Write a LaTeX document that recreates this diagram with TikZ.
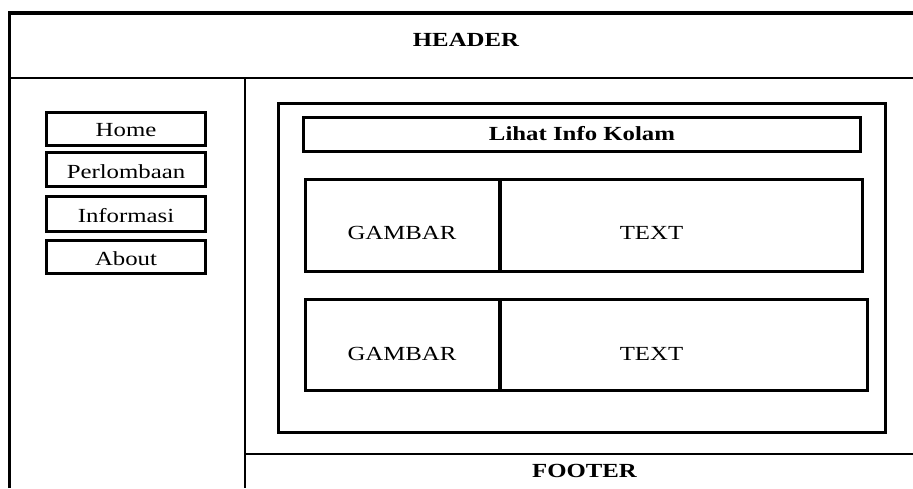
\documentclass[tikz,border=0pt]{standalone}
\usepackage{graphicx}
\usepackage{fontspec}
\setmainfont{Liberation Serif}
% slightly widened lettering
\newcommand\widetxt[1]{\scalebox{1.24}[1]{#1}}
\begin{document}
\begin{tikzpicture}[x=1pt,y=-1pt,
  frame/.style={draw, line width=3.2pt, inner sep=0pt, minimum width=#1},
  rule/.style={line width=2.8pt},
  lbl/.style={anchor=base, inner sep=0pt, font=\fontsize{20}{24}\selectfont},
  blbl/.style={lbl, font=\fontsize{20}{24}\selectfont\bfseries}]
\useasboundingbox (0,0) rectangle (913,488);

% page outline and layout rules
\coordinate (outerBL) at (9.5,488);
\coordinate (outerTL) at (9.5,13);
\coordinate (outerTR) at (913,13);
\draw[line width=3.2pt] (outerBL) -- (outerTL) -- (outerTR);
\coordinate (headL) at (9.5,78);
\coordinate (headR) at (913,78);
\draw[rule] (headL) -- (headR);
\coordinate (sideT) at (245,78);
\coordinate (sideB) at (245,488);
\draw[rule] (sideT) -- (sideB);
\coordinate (footL) at (245,454);
\coordinate (footR) at (913,454);
\draw[rule] (footL) -- (footR);

\node[blbl] (header) at (466,46) {\widetxt{HEADER}};
\node[blbl] (footer) at (584.5,477) {\widetxt{FOOTER}};

% navigation menu
\node[frame=159, minimum height=33] (mhome) at (126,129) {};
\node[frame=159, minimum height=34] (mlomba) at (126,169.5) {};
\node[frame=159, minimum height=35] (minfo) at (126,214) {};
\node[frame=159, minimum height=33] (mabout) at (126,257) {};
\node[lbl] (thome) at (126,136) {\widetxt{Home}};
\node[lbl] (tlomba) at (126,178) {\widetxt{Perlombaan}};
\node[lbl] (tinfo) at (126,222) {\widetxt{Informasi}};
\node[lbl] (tabout) at (126,265) {\widetxt{About}};

% content panel
\node[frame=607, minimum height=329] (content) at (582,268) {};
\node[frame=557, minimum height=34] (title) at (582,134.5) {};
\node[blbl] (ttitle) at (582,140) {\widetxt{Lihat Info Kolam}};

% first entry
\node[frame=194.5, minimum height=92] (img1) at (402.75,225.5) {};
\node[frame=362.5, minimum height=92] (txt1) at (681.25,225.5) {};
\node[lbl] (timg1) at (402,239) {\widetxt{GAMBAR}};
\node[lbl] (ttxt1) at (651.5,239) {\widetxt{TEXT}};

% second entry
\node[frame=194.5, minimum height=91] (img2) at (402.75,345) {};
\node[frame=367.5, minimum height=91] (txt2) at (683.75,345) {};
\node[lbl] (timg2) at (402,360) {\widetxt{GAMBAR}};
\node[lbl] (ttxt2) at (651.5,360) {\widetxt{TEXT}};
\end{tikzpicture}
\end{document}
